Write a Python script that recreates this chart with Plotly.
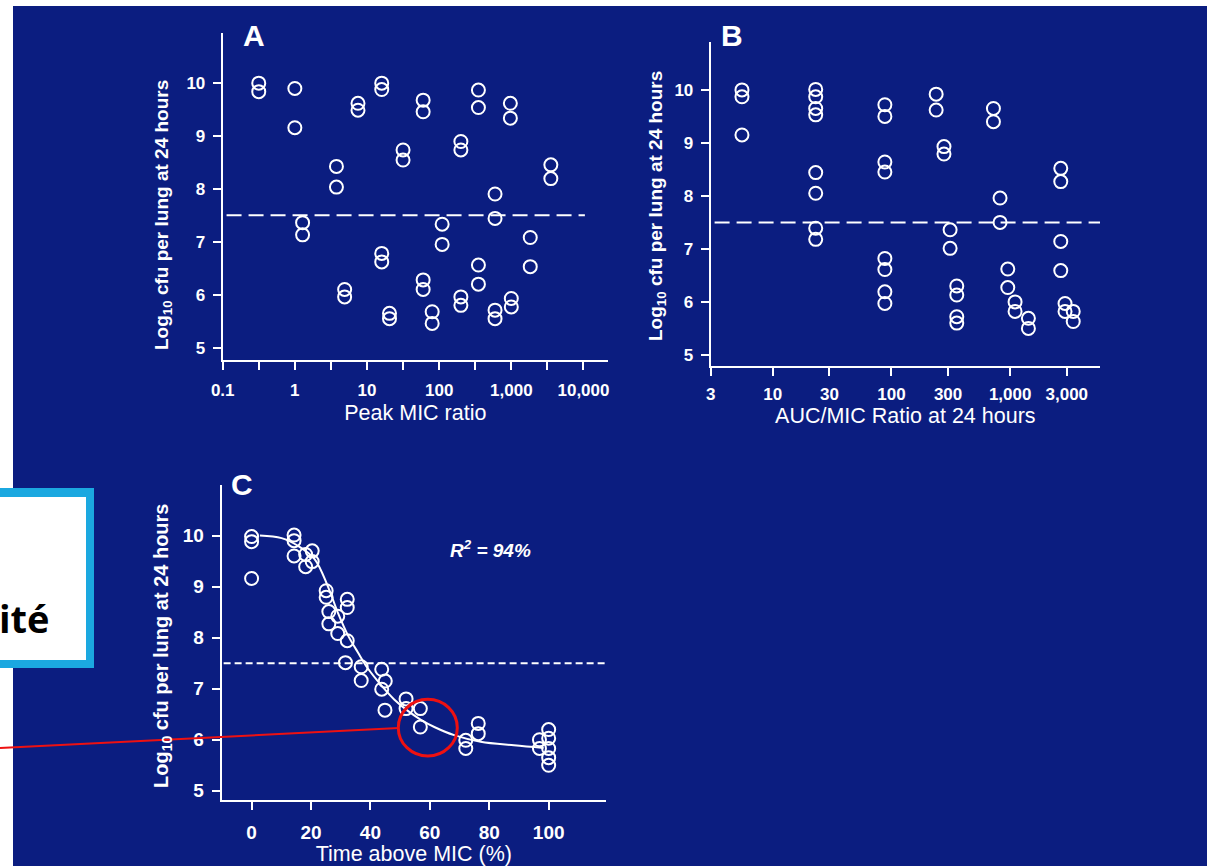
import plotly.graph_objects as go

W, H = 1207, 866
BG = "#0b1d80"
FONT = "Liberation Sans"

# ---------------- data ----------------
# Panel A: Peak/MIC ratio vs log10 cfu
peak_A = [0.316, 0.316, 1, 1, 1.28, 1.28, 3.77, 3.77, 4.9, 4.9, 7.5, 7.5,
          16, 16, 16, 16, 20.5, 20.5, 31.6, 31.6, 60, 60, 60, 60, 80, 80,
          110, 110, 200, 200, 200, 200, 350, 350, 350, 350, 595, 595, 595, 595,
          970, 970, 1000, 1000, 1830, 1830, 3530, 3530]
cfu_A = [9.99, 9.83, 9.89, 9.15, 7.36, 7.13, 8.42, 8.03, 6.10, 5.96, 9.61, 9.48,
         9.99, 9.87, 6.78, 6.62, 5.65, 5.55, 8.73, 8.54, 9.67, 9.45, 6.28, 6.10, 5.68, 5.46,
         7.33, 6.95, 8.89, 8.73, 5.96, 5.80, 9.86, 9.53, 6.56, 6.20, 7.90, 7.44, 5.71, 5.55,
         9.61, 9.33, 5.93, 5.77, 7.08, 6.53, 8.45, 8.19]

# Panel B: AUC/MIC ratio vs log10 cfu
auc_B = [5.5, 5.5, 5.5, 23, 23, 23, 23, 23, 23, 23, 23,
         88, 88, 88, 88, 88, 88, 88, 88, 238, 238, 277, 277, 312, 312,
         355, 355, 355, 355, 723, 723, 822, 822, 955, 955, 1100, 1100, 1425, 1425,
         2670, 2670, 2670, 2670, 2900, 2900, 3400, 3400]
cfu_B = [10.0, 9.87, 9.15, 10.01, 9.87, 9.65, 9.53, 8.44, 8.05, 7.39, 7.18,
         9.72, 9.50, 8.64, 8.45, 6.82, 6.61, 6.19, 5.97, 9.92, 9.62, 8.93, 8.79, 7.36, 7.01,
         6.30, 6.13, 5.72, 5.60, 9.65, 9.40, 7.96, 7.50, 6.62, 6.27, 6.00, 5.82, 5.69, 5.50,
         8.52, 8.27, 7.14, 6.59, 5.97, 5.82, 5.82, 5.63]

# Panel C: time above MIC (%) vs log10 cfu
tam_C = [0, 0, 0, 14.3, 14.3, 14.3, 18.2, 18.2, 20.4, 20.4, 25.1, 25.1, 26, 26,
         29, 29, 32.2, 32.2, 32.2, 31.6, 36.9, 36.9, 43.8, 43.8, 45, 44.9,
         52, 52, 56.8, 56.8, 72.1, 72.1, 76.3, 76.3, 96.9, 96.9, 100, 100, 100, 100, 100]
cfu_C = [9.98, 9.88, 9.16, 10.01, 9.90, 9.60, 9.63, 9.39, 9.70, 9.49, 8.92, 8.79, 8.51, 8.27,
         8.42, 8.08, 8.75, 8.59, 7.94, 7.51, 7.43, 7.16, 7.38, 6.99, 7.15, 6.58,
         6.80, 6.61, 6.61, 6.25, 5.99, 5.83, 6.32, 6.12, 6.00, 5.83, 6.20, 6.03, 5.83, 5.65, 5.50]

# fitted curve in panel C
fit_x = [2.8, 10.1, 15.6, 21.2, 25.7, 29.1, 32.4, 35.8, 39.1, 43.6, 48.0, 52.5, 57.0, 61.5, 68.2, 77.1, 88.3, 98.3]
fit_y = [10.0, 9.95, 9.80, 9.54, 9.00, 8.48, 8.05, 7.71, 7.40, 7.07, 6.79, 6.57, 6.39, 6.25, 6.09, 5.96, 5.89, 5.84]

THRESHOLD = 7.5
R2_TEXT = "R<sup>2</sup> = 94%"

A_tickvals = [0.1, 1, 10, 100, 1000, 10000]
A_ticktext = ["0.1", "1", "10", "100", "1,000", "10,000"]
A_minorvals = [0.316, 3.16, 31.6, 316, 3162]
B_tickvals = [3, 10, 30, 100, 300, 1000, 3000]
B_ticktext = ["3", "10", "30", "100", "300", "1,000", "3,000"]
C_tickvals = [0, 20, 40, 60, 80, 100]
Y_tickvals = [5, 6, 7, 8, 9, 10]
Y_TITLE = "Log<sub>10</sub> cfu per lung at 24 hours"

# ---------------- helpers ----------------
def fx(p):
    return p / W

def fy(p):
    return 1 - p / H

marker = dict(symbol="circle-open", size=13, color="white", line=dict(width=2, color="white"))

fig = go.Figure()
fig.add_trace(go.Scatter(x=peak_A, y=cfu_A, mode="markers", marker=marker, xaxis="x", yaxis="y", showlegend=False))
fig.add_trace(go.Scatter(x=auc_B, y=cfu_B, mode="markers", marker=marker, xaxis="x2", yaxis="y2", showlegend=False))
fig.add_trace(go.Scatter(x=fit_x, y=fit_y, mode="lines", line=dict(color="white", width=2, shape="spline", smoothing=1.0),
                         xaxis="x3", yaxis="y3", showlegend=False))
fig.add_trace(go.Scatter(x=tam_C, y=cfu_C, mode="markers", marker=marker, xaxis="x3", yaxis="y3", showlegend=False))

common = dict(showline=True, linecolor="white", linewidth=2, ticks="outside", ticklen=8, tickwidth=2,
              tickcolor="white", showgrid=False, zeroline=False, automargin=False,
              tickfont=dict(family=FONT, size=17, color="white", weight="bold"))
commonC = {**common, "tickfont": dict(family=FONT, size=19, color="white", weight="bold")}

def xtitle(t, size=21.5, standoff=6):
    return dict(text=t, font=dict(family=FONT, size=size, color="white"), standoff=standoff)

fig.update_layout(
    template="none",
    width=W, height=H, autosize=False,
    margin=dict(l=0, r=0, t=0, b=0, pad=0),
    paper_bgcolor=BG, plot_bgcolor=BG,
    xaxis=dict(domain=[fx(222.7), fx(608)], anchor="y", type="log", range=[-1, 4.34],
               tickvals=A_tickvals, ticktext=A_ticktext, title=xtitle("Peak MIC ratio"),
               minor=dict(tickvals=A_minorvals, ticks="outside", ticklen=8, tickwidth=2, tickcolor="white",
                          showgrid=False),
               ticklabelstandoff=6, **common),
    yaxis=dict(domain=[fy(360), fy(33.3)], anchor="x", range=[4.77, 10.93],
               tickvals=Y_tickvals, ticklabelstandoff=4, **common),
    xaxis2=dict(domain=[fx(710.7), fx(1100)], anchor="y2", type="log", range=[0.477, 3.757],
                tickvals=B_tickvals, ticktext=B_ticktext, title=xtitle("AUC/MIC Ratio at 24 hours", standoff=5),
                ticklabelstandoff=4, **common),
    yaxis2=dict(domain=[fy(366), fy(41.7)], anchor="x2", range=[4.79, 10.91],
                tickvals=Y_tickvals, ticklabelstandoff=4, **common),
    xaxis3=dict(domain=[fx(221.7), fx(606)], anchor="y3", range=[-10.06, 119.3],
                tickvals=C_tickvals, title=xtitle("Time above MIC (%)", 21.5, standoff=11),
                ticklabelstandoff=6, **commonC),
    yaxis3=dict(domain=[fy(800), fy(485)], anchor="x3", range=[4.82, 10.99],
                tickvals=Y_tickvals, ticklabelstandoff=4, **commonC),
)

shapes = [
    # threshold dashed lines
    dict(type="line", xref="x domain", yref="y", x0=0.01, x1=0.94, y0=THRESHOLD, y1=THRESHOLD,
         line=dict(color="white", width=2, dash="15px,7px")),
    dict(type="line", xref="x2 domain", yref="y2", x0=0.01, x1=1.0, y0=THRESHOLD, y1=THRESHOLD,
         line=dict(color="white", width=2, dash="15px,7px")),
    dict(type="line", xref="x3 domain", yref="y3", x0=0.005, x1=1.0, y0=THRESHOLD, y1=THRESHOLD,
         line=dict(color="white", width=2, dash="7px,4px")),
    # white edges of the slide
    dict(type="rect", xref="paper", yref="paper", x0=0, x1=1, y0=fy(6), y1=1,
         fillcolor="white", line=dict(width=0)),
    dict(type="rect", xref="paper", yref="paper", x0=0, x1=fx(13), y0=0, y1=1,
         fillcolor="white", line=dict(width=0)),
    # text box
    dict(type="rect", xref="paper", yref="paper", x0=0, x1=fx(94), y0=fy(668), y1=fy(488),
         fillcolor="#1ba8e0", line=dict(width=0)),
    dict(type="rect", xref="paper", yref="paper", x0=0, x1=fx(86), y0=fy(660), y1=fy(497),
         fillcolor="white", line=dict(width=0)),
    # red pointer
    dict(type="line", xref="paper", yref="paper", x0=0, x1=fx(399), y0=fy(748), y1=fy(728),
         line=dict(color="#ee1111", width=2)),
    dict(type="circle", xref="paper", yref="paper", x0=fx(398.3), x1=fx(457.3), y0=fy(756), y1=fy(699.3),
         line=dict(color="#ee1111", width=3)),
]
fig.update_layout(shapes=shapes)

ann = [
    dict(text="A", x=fx(254), y=fy(36)),
    dict(text="B", x=fx(732), y=fy(36)),
    dict(text="C", x=fx(242), y=fy(484)),
]
annotations = [dict(xref="paper", yref="paper", showarrow=False, xanchor="center", yanchor="middle",
                    font=dict(family=FONT, size=30, color="white", weight="bold"), **a) for a in ann]
# y-axis titles (rotated)
for (xc, yc, sz) in [(163, 215, 19), (657, 206, 19), (162, 646, 20)]:
    annotations.append(dict(xref="paper", yref="paper", showarrow=False, text=Y_TITLE, textangle=-90,
                            x=fx(xc), y=fy(yc), xanchor="center", yanchor="middle",
                            font=dict(family=FONT, size=sz, color="white", weight="bold")))
annotations.append(dict(xref="paper", yref="paper", showarrow=False, text=R2_TEXT, x=fx(490), y=fy(549),
                        xanchor="center", yanchor="middle",
                        font=dict(family=FONT, size=19, color="white", weight="bold", style="italic")))
annotations.append(dict(xref="paper", yref="paper", showarrow=False, text="ité", x=fx(52), y=fy(618),
                        xanchor="right", yanchor="middle",
                        font=dict(family="Open Sans", size=38, color="black", weight="bold")))
fig.update_layout(annotations=annotations)

fig.write_html("out.html", config={"displayModeBar": False},
               post_script="document.body.style.margin='0';document.body.style.overflow='hidden';")
